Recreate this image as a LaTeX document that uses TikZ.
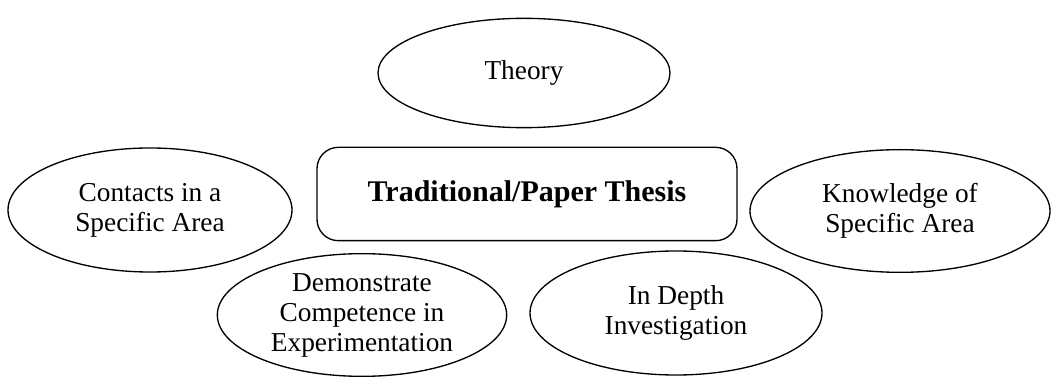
\documentclass[tikz,border=0pt]{standalone}
\usepackage{fontspec}
\setmainfont{Liberation Serif}
\usetikzlibrary{shapes.geometric}
\tikzset{
  bubble/.style={draw, ellipse, line width=1pt, inner sep=0pt, align=center},
  thesisbox/.style={draw, rounded corners=16pt, line width=1pt, inner sep=0pt,
    minimum width=315pt, minimum height=70pt, font=\fontsize{22.5}{26}\selectfont\bfseries}
}
\begin{document}
\begin{tikzpicture}[x=0.75pt, y=-0.75pt, every node/.style={font=\fontsize{20.5}{22.5}\selectfont}]
    \useasboundingbox (0,0) rectangle (1052,377);
    \node[bubble, minimum width=219pt, minimum height=82pt] (theory) at (524,73) {Theory};
    \node[bubble, minimum width=213pt, minimum height=93pt] (contacts) at (150,210) {Contacts in a\\Specific Area};
    \node[thesisbox] (thesis) at (527,194) {Traditional/Paper Thesis};
    \node[bubble, minimum width=225pt, minimum height=92pt] (knowledge) at (900,211) {Knowledge of\\Specific Area};
    \node[bubble, minimum width=217pt, minimum height=92pt] (competence) at (362,315) {Demonstrate\\Competence in\\Experimentation};
    \node[bubble, minimum width=219pt, minimum height=93pt] (depth) at (676,313) {In Depth\\Investigation};
\end{tikzpicture}
\end{document}
